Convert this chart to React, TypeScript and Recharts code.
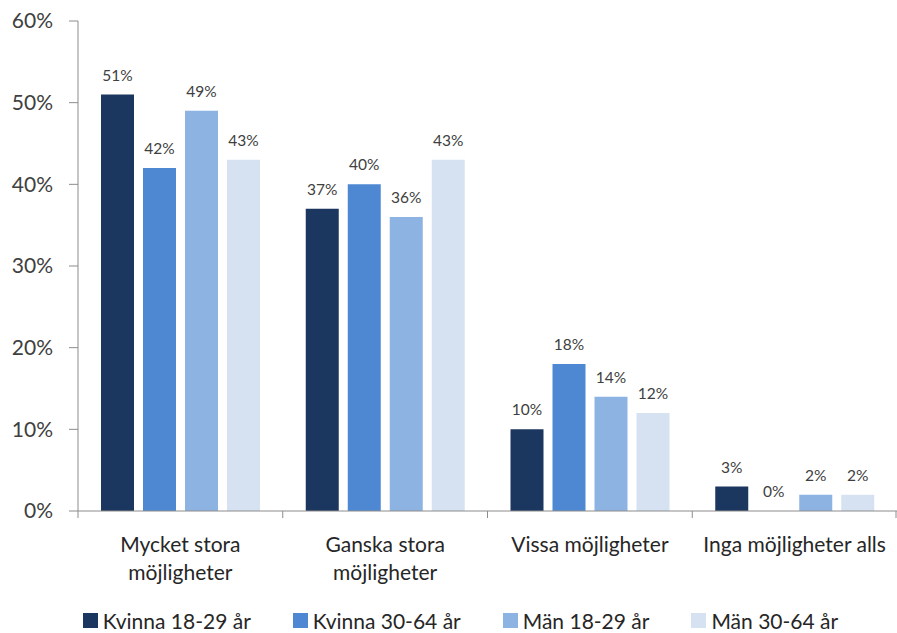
import { Bar, BarChart, LabelList, Legend, XAxis, YAxis } from "recharts";

const categories = ["Mycket stora\nmöjligheter", "Ganska stora\nmöjligheter", "Vissa möjligheter", "Inga möjligheter alls"];
const kvinna1829 = [0.51, 0.37, 0.1, 0.03];
const kvinna3064 = [0.42, 0.4, 0.18, 0];
const man1829 = [0.49, 0.36, 0.14, 0.02];
const man3064 = [0.43, 0.43, 0.12, 0.02];
const yTicks = [0, 0.1, 0.2, 0.3, 0.4, 0.5, 0.6];

const series = [
  { key: "k1829", name: "Kvinna 18-29 år", color: "#1c375f", values: kvinna1829 },
  { key: "k3064", name: "Kvinna 30-64 år", color: "#4f88d2", values: kvinna3064 },
  { key: "m1829", name: "Män 18-29 år", color: "#8db3e2", values: man1829 },
  { key: "m3064", name: "Män 30-64 år", color: "#d6e2f1", values: man3064 },
];

const data = categories.map((name, i) => {
  const row: Record<string, string | number> = { name };
  series.forEach((s) => (row[s.key] = s.values[i]));
  return row;
});

const FONT = "Lato, 'Open Sans', sans-serif";
const pct = (v: number) => `${Math.round(v * 100)}%`;

function CategoryTick(props: any) {
  const { x, y, payload, index } = props;
  const half = payload.offset || 102.4;
  const lines = String(payload.value).split("\n");
  return (
    <g>
      <line x1={x - half} x2={x - half} y1={y - 8} y2={y - 1} stroke="#8c8c8c" />
      {index === categories.length - 1 && (
        <line x1={x + half - 1} x2={x + half - 1} y1={y - 8} y2={y - 1} stroke="#8c8c8c" />
      )}
      <text x={x} y={y + 33} textAnchor="middle" fontSize={21} fill="#262626" fontFamily={FONT}>
        {lines.map((l, i) => (
          <tspan key={i} x={x} dy={i === 0 ? 0 : 28}>
            {l}
          </tspan>
        ))}
      </text>
    </g>
  );
}

function LegendContent() {
  return (
    <div style={{ display: "flex", justifyContent: "center", paddingLeft: 66, height: 26, alignItems: "center", fontFamily: FONT, fontSize: 21, color: "#262626" }}>
      {series.map((s) => (
        <div key={s.key} style={{ display: "flex", alignItems: "center", marginRight: 42 }}>
          <span style={{ width: 15, height: 15, background: s.color, marginRight: 5, display: "inline-block" }} />
          <span>{s.name}</span>
        </div>
      ))}
    </div>
  );
}

export default function App() {
  return (
    <div style={{ position: "absolute", left: 0, top: 0, background: "#fff" }}>
      <BarChart
        width={897}
        height={633}
        data={data}
        margin={{ top: 21, right: 0, left: 0, bottom: 0 }}
        barCategoryGap={23}
        barGap={9}
      >
        <YAxis
          width={78}
          domain={[0, 0.6]}
          ticks={yTicks}
          tickFormatter={pct}
          tickSize={9}
          tickMargin={16}
          tick={{ fontSize: 21, fill: "#404040", fontFamily: FONT }}
          tickLine={{ stroke: "#8c8c8c" }}
          axisLine={{ stroke: "#8c8c8c" }}
          interval={0}
        />
        <XAxis
          dataKey="name"
          height={96}
          tickLine={false}
          axisLine={{ stroke: "#8c8c8c" }}
          tick={<CategoryTick />}
          interval={0}
        />
        <Legend verticalAlign="bottom" height={26} content={<LegendContent />} wrapperStyle={{ left: 0, width: 897 }} />
        {series.map((s) => (
          <Bar key={s.key} dataKey={s.key} name={s.name} fill={s.color} minPointSize={0.01} isAnimationActive={false}>
            <LabelList dataKey={s.key} position="top" offset={14} formatter={(v: any) => pct(Number(v))} style={{ fontSize: 15.5, fill: "#404040", fontFamily: FONT }} />
          </Bar>
        ))}
      </BarChart>
    </div>
  );
}
